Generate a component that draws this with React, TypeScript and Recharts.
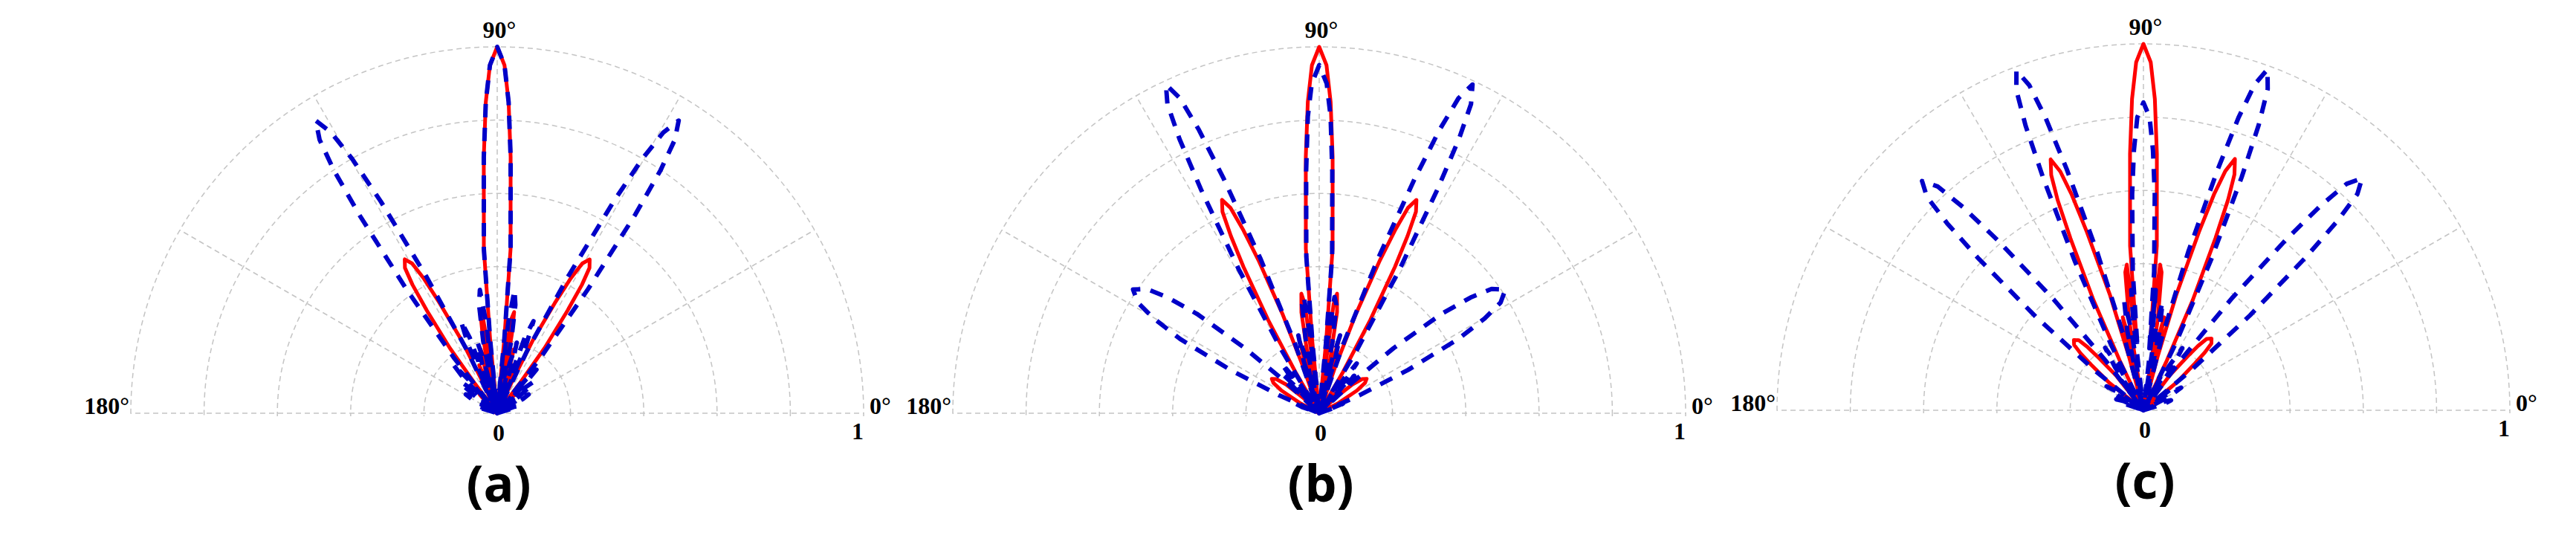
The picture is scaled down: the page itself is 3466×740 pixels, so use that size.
import { RadarChart, Radar, PolarGrid, PolarAngleAxis, PolarRadiusAxis } from 'recharts'

// [angle in degrees, normalised gain]
const panelARed: [number, number][] = [
  [0, 0], [20, 0], [22, 0.04], [24, 0],
  [44, 0], [46, 0.05], [47, 0.07], [48, 0.05], [50, 0],
  [53, 0.1], [54, 0.22], [55.6, 0.34], [56.6, 0.42], [57.6, 0.47], [59, 0.49],
  [60.4, 0.47], [61.4, 0.42], [62.4, 0.34], [64, 0.22], [65, 0.1],
  [66, 0], [68, 0.08], [69.5, 0.14], [71, 0.08], [72.5, 0],
  [74, 0.1], [75.5, 0.18], [77, 0.12], [77.5, 0],
  [78.5, 0.12], [79.5, 0.22], [80.5, 0.28], [81.5, 0.26], [82.5, 0.15], [83.5, 0],
  [84.5, 0.2], [85.35, 0.45], [87, 0.7], [87.9, 0.85], [88.8, 0.95], [90, 1],
  [91.2, 0.95], [92.1, 0.85], [93, 0.7], [94.65, 0.45], [95.5, 0.2],
  [96.5, 0], [97.5, 0.15], [98.5, 0.26], [99.5, 0.28], [100.5, 0.22], [101.5, 0.12], [102.5, 0],
  [103, 0.12], [104.5, 0.18], [106, 0.1], [107.5, 0],
  [109, 0.08], [110.5, 0.14], [112, 0.08], [114, 0],
  [115, 0.1], [116, 0.22], [117.6, 0.34], [118.6, 0.42], [119.6, 0.47], [121, 0.49],
  [122.4, 0.47], [123.4, 0.42], [124.4, 0.34], [126, 0.22], [127, 0.1],
  [130, 0], [132, 0.05], [133, 0.07], [134, 0.05], [136, 0],
  [156, 0], [158, 0.04], [160, 0], [180, 0],
]

const panelABlue: [number, number][] = [
  [0, 0], [15, 0], [17, 0.05], [19, 0.06], [21, 0.05], [23, 0],
  [27, 0], [29, 0.08], [31, 0.1], [33, 0.08], [35, 0],
  [37, 0.06], [39, 0.12], [41, 0.13], [43, 0.1], [45, 0],
  [46.5, 0.1], [48, 0.16], [49.5, 0.12], [51, 0],
  [52, 0.19], [53.8, 0.42], [55.2, 0.66], [56.1, 0.8], [57, 0.89], [58.2, 0.94],
  [59.4, 0.89], [60.3, 0.8], [61.2, 0.66], [62.6, 0.42], [64.4, 0.19],
  [65.5, 0], [67, 0.2], [68.5, 0.27], [70, 0.22], [71.5, 0],
  [73, 0.14], [74.5, 0.2], [76, 0.14], [77.5, 0],
  [79, 0.2], [80.5, 0.3], [82, 0.34], [83, 0.25], [83.8, 0],
  [84.5, 0.2], [85.35, 0.45], [87, 0.7], [87.9, 0.85], [88.8, 0.95], [90, 1],
  [91.2, 0.95], [92.1, 0.85], [93, 0.7], [94.65, 0.45], [95.5, 0.2],
  [96.2, 0], [97, 0.25], [98, 0.34], [99.5, 0.3], [101, 0.2], [102.5, 0],
  [104, 0.14], [105.5, 0.2], [107, 0.14], [108.5, 0],
  [110, 0.22], [111.5, 0.27], [113, 0.2], [114.5, 0],
  [115.6, 0.19], [117.4, 0.42], [118.8, 0.66], [119.7, 0.8], [120.6, 0.89], [121.8, 0.94],
  [123, 0.89], [123.9, 0.8], [124.8, 0.66], [126.2, 0.42], [128, 0.19],
  [129, 0], [130.5, 0.12], [132, 0.18], [133.5, 0.14], [135, 0],
  [137, 0.1], [139, 0.13], [141, 0.12], [143, 0.06], [145, 0],
  [147, 0.08], [149, 0.1], [151, 0.08], [153, 0],
  [159, 0.05], [161, 0.06], [163, 0.05], [165, 0], [180, 0],
]

const panelBRed: [number, number][] = [
  [0, 0], [25, 0],
  [28, 0.06], [31, 0.12], [33.5, 0.15], [36, 0.16], [38.5, 0.15], [41, 0.12], [44, 0.06],
  [46, 0], [48, 0.05], [50, 0.08], [52, 0.05], [55, 0],
  [60, 0.13], [61.3, 0.29], [62.65, 0.45], [63.5, 0.54], [64.35, 0.61], [65.5, 0.64],
  [66.65, 0.61], [67.5, 0.54], [68.35, 0.45], [69.7, 0.29], [71, 0.13],
  [72, 0], [73.5, 0.12], [75, 0.2], [76.5, 0.12], [77.5, 0],
  [78.5, 0.15], [80, 0.28], [81.5, 0.33], [82.5, 0.3], [83.5, 0],
  [84.5, 0.2], [85.35, 0.45], [87, 0.7], [87.9, 0.85], [88.8, 0.95], [90, 1],
  [91.2, 0.95], [92.1, 0.85], [93, 0.7], [94.65, 0.45], [95.5, 0.2],
  [96.5, 0], [97.5, 0.3], [98.5, 0.33], [100, 0.28], [101.5, 0.15], [102.5, 0],
  [103.5, 0.12], [105, 0.2], [106.5, 0.12], [108, 0],
  [109, 0.13], [110.3, 0.29], [111.65, 0.45], [112.5, 0.54], [113.35, 0.61], [114.5, 0.64],
  [115.65, 0.61], [116.5, 0.54], [117.35, 0.45], [118.7, 0.29], [120, 0.13],
  [125, 0], [128, 0.05], [130, 0.08], [132, 0.05], [134, 0],
  [136, 0.06], [139, 0.12], [141.5, 0.15], [144, 0.16], [146.5, 0.15], [149, 0.12], [152, 0.06],
  [155, 0], [180, 0],
]

const panelBBlue: [number, number][] = [
  [0, 0], [18, 0], [20, 0.05], [22, 0.07], [23, 0],
  [24.1, 0.12], [26, 0.27], [28.1, 0.43], [29.8, 0.52], [31.4, 0.58], [33.6, 0.61],
  [35.8, 0.58], [37.4, 0.52], [39.1, 0.43], [41.2, 0.27], [43.1, 0.12],
  [44, 0], [45.5, 0.1], [47, 0.14], [48.5, 0.1], [50, 0],
  [51.5, 0.12], [53, 0.17], [54.5, 0.12], [56, 0], [57, 0.1], [58, 0],
  [59.2, 0.2], [60.8, 0.45], [62.15, 0.69], [63, 0.84], [63.85, 0.94], [65, 0.99],
  [66.15, 0.94], [67, 0.84], [67.85, 0.69], [69.2, 0.45], [70.8, 0.2],
  [72, 0], [73.5, 0.15], [75, 0.22], [76.5, 0.15], [78, 0],
  [79.5, 0.2], [81, 0.3], [82.5, 0.32], [83.5, 0.2], [84, 0],
  [84.5, 0.19], [85.3, 0.43], [86.9, 0.66], [87.8, 0.81], [88.7, 0.9], [90, 0.95],
  [91.3, 0.9], [92.2, 0.81], [93.1, 0.66], [94.7, 0.43], [95.5, 0.19],
  [96, 0], [96.5, 0.2], [97.5, 0.32], [99, 0.3], [100.5, 0.2], [102, 0],
  [103.5, 0.15], [105, 0.22], [106.5, 0.15], [108, 0],
  [109.2, 0.2], [110.8, 0.45], [112.15, 0.69], [113, 0.84], [113.85, 0.94], [115, 0.99],
  [116.15, 0.94], [117, 0.84], [117.85, 0.69], [119.2, 0.45], [120.8, 0.2],
  [122, 0], [123, 0.1], [124, 0], [125.5, 0.12], [127, 0.17], [128.5, 0.12], [130, 0],
  [131.5, 0.1], [133, 0.14], [134.5, 0.1], [136, 0],
  [136.9, 0.12], [138.8, 0.27], [140.9, 0.43], [142.6, 0.52], [144.2, 0.58], [146.4, 0.61],
  [148.6, 0.58], [150.2, 0.52], [151.9, 0.43], [154, 0.27], [155.9, 0.12],
  [157, 0], [158, 0.07], [160, 0.05], [162, 0], [180, 0],
]

const panelCRed: [number, number][] = [
  [0, 0], [30, 0], [33, 0.04], [36, 0],
  [40, 0.12], [42.3, 0.19], [43.3, 0.23], [44.5, 0.26], [46.5, 0.27],
  [48.5, 0.26], [49.7, 0.23], [50.7, 0.19], [53, 0.12],
  [54, 0], [56, 0.06], [58, 0.08], [60, 0.06], [62, 0],
  [64.8, 0.15], [65.9, 0.33], [67.3, 0.51], [68.1, 0.62], [68.9, 0.69], [70, 0.73],
  [71.1, 0.69], [71.9, 0.62], [72.7, 0.51], [74.1, 0.33], [75.2, 0.15],
  [76, 0], [76.5, 0.18], [77.5, 0.26], [78.5, 0.2], [79.5, 0],
  [81, 0.25], [82.5, 0.38], [83.5, 0.4], [84, 0.2],
  [84.5, 0.2], [85.35, 0.45], [87, 0.7], [87.9, 0.85], [88.8, 0.95], [90, 1],
  [91.2, 0.95], [92.1, 0.85], [93, 0.7], [94.65, 0.45], [95.5, 0.2],
  [96, 0.2], [96.5, 0.4], [97.5, 0.38], [99, 0.25], [100.5, 0],
  [101.5, 0.2], [102.5, 0.26], [103.5, 0.18], [104.5, 0],
  [105.1, 0.15], [106.2, 0.33], [107.6, 0.51], [108.4, 0.62], [109.2, 0.69], [110.3, 0.73],
  [111.4, 0.69], [112.2, 0.62], [113, 0.51], [114.4, 0.33], [115.5, 0.15],
  [117, 0], [119, 0.06], [121, 0.08], [123, 0.06], [125, 0],
  [128.2, 0.12], [130.5, 0.19], [131.5, 0.23], [132.7, 0.26], [134.7, 0.27],
  [136.7, 0.26], [137.9, 0.23], [138.9, 0.19], [141.2, 0.12],
  [143, 0], [145, 0.04], [148, 0], [180, 0],
]

const panelCBlue: [number, number][] = [
  [0, 0], [14, 0], [17, 0.06], [20, 0.08], [23, 0.06], [26, 0],
  [28, 0.08], [31, 0.12], [34, 0.08], [36, 0], [37.5, 0.1], [39, 0],
  [40, 0.17], [41.7, 0.39], [43.3, 0.61], [44.3, 0.74], [45.3, 0.83], [46.7, 0.87],
  [48.1, 0.83], [49.1, 0.74], [50.1, 0.61], [51.7, 0.39], [53.4, 0.17],
  [54.5, 0], [56, 0.14], [58, 0.2], [60, 0.14], [62, 0], [63, 0.1], [63.5, 0],
  [64.2, 0.2], [65.8, 0.45], [67.15, 0.69], [68, 0.84], [68.85, 0.94], [70, 0.99],
  [71.15, 0.94], [72, 0.84], [72.85, 0.69], [74.2, 0.45], [75.8, 0.2],
  [77, 0], [78.5, 0.22], [80, 0.3], [81.5, 0.22], [83, 0],
  [83.6, 0.25], [84.2, 0.33], [84.5, 0.17],
  [85.6, 0.38], [87, 0.59], [87.9, 0.71], [88.8, 0.8], [90, 0.84],
  [91.2, 0.8], [92.1, 0.71], [93, 0.59], [94.4, 0.38], [95.5, 0.17],
  [95.8, 0.33], [96.4, 0.25], [97, 0],
  [98.5, 0.22], [100, 0.3], [101.5, 0.22], [103, 0],
  [104.7, 0.2], [106.3, 0.45], [107.65, 0.69], [108.5, 0.84], [109.35, 0.94], [110.5, 0.99],
  [111.65, 0.94], [112.5, 0.84], [113.35, 0.69], [114.7, 0.45], [116.3, 0.2],
  [117.5, 0], [119.5, 0.14], [121.5, 0.2], [123.5, 0.14], [125.5, 0], [126.5, 0.1], [127, 0],
  [127.3, 0.17], [129, 0.39], [130.6, 0.61], [131.6, 0.74], [132.6, 0.83], [134, 0.87],
  [135.4, 0.83], [136.4, 0.74], [137.4, 0.61], [139, 0.39], [140.7, 0.17],
  [141.5, 0], [144, 0.08], [147, 0.12], [150, 0.08], [152, 0],
  [155, 0.06], [158, 0.08], [161, 0.06], [164, 0], [180, 0],
]

const gridAngles = [0, 30, 60, 90, 120, 150, 180]
const gridRings = [0.2, 0.4, 0.6, 0.8, 1]
const angleLabels = ['180°', '90°', '0°']
const radiusLabels = ['0', '1']
const panelTitles = ['(a)', '(b)', '(c)']

const R = 493
const W = 1100
const PANELS = [
  { cx: 669, cy: 556, red: panelARed, blue: panelABlue },
  { cx: 1775, cy: 556, red: panelBRed, blue: panelBBlue },
  { cx: 2884, cy: 552, red: panelCRed, blue: panelCBlue },
]

type LayerProps = {
  cx: number
  cy: number
  series: [number, number][]
  color: string
  dashed?: boolean
  grid?: boolean
}

// one polar layer per series; the lower half of the circle is cut off by the wrapper
function PatternLayer({ cx, cy, series, color, dashed, grid }: LayerProps) {
  const data = series.map(([angle, gain]) => ({ angle, gain }))
  return (
    <div style={{ position: 'absolute', left: cx - W / 2, top: 0, width: W, height: cy + 4, overflow: 'hidden' }}>
      <RadarChart
        width={W}
        height={2 * cy + 10}
        data={data}
        cx={W / 2}
        cy={cy}
        outerRadius={R}
        startAngle={0}
        endAngle={360}
        margin={{ top: 0, right: 0, bottom: 0, left: 0 }}
      >
        {grid && (
          <PolarGrid
            gridType="circle"
            polarAngles={gridAngles}
            polarRadius={gridRings.map((g) => g * R)}
            stroke="#c4c4c4"
            strokeWidth={1.5}
            strokeDasharray="7 5"
          />
        )}
        <PolarAngleAxis dataKey="angle" type="number" domain={[0, 360]} tick={false} axisLine={false} tickLine={false} />
        <PolarRadiusAxis type="number" domain={[0, 1]} allowDataOverflow tick={false} axisLine={false} />
        <Radar
          dataKey="gain"
          stroke={color}
          strokeWidth={dashed ? 6 : 5}
          strokeDasharray={dashed ? '18 14' : undefined}
          strokeLinejoin="round"
          fill="none"
          fillOpacity={0}
          isAnimationActive={false}
        />
      </RadarChart>
    </div>
  )
}

export default function App() {
  const serif = { fontFamily: '"Liberation Serif", serif', fontWeight: 700, fontSize: 32 }
  return (
    <div style={{ position: 'absolute', left: 0, top: 0, width: 3466, height: 740, background: '#fff', overflow: 'hidden' }}>
      {PANELS.map((p, i) => (
        <div key={i}>
          <PatternLayer cx={p.cx} cy={p.cy} series={p.red} color="#ff0000" grid />
          <PatternLayer cx={p.cx} cy={p.cy} series={p.blue} color="#0000c8" dashed />
        </div>
      ))}
      <svg width={3466} height={740} style={{ position: 'absolute', left: 0, top: 0, pointerEvents: 'none' }}>
        {PANELS.map((p, i) => (
          <g key={i} fill="#000">
            <text x={p.cx - R - 2} y={p.cy + 1} textAnchor="end" style={serif}>{angleLabels[0]}</text>
            <text x={p.cx + 3} y={p.cy - R - 12} textAnchor="middle" style={serif}>{angleLabels[1]}</text>
            <text x={p.cx + R + 8} y={p.cy + 1} textAnchor="start" style={serif}>{angleLabels[2]}</text>
            <text x={p.cx + 2} y={p.cy + 37} textAnchor="middle" style={serif}>{radiusLabels[0]}</text>
            <text x={p.cx + R - 8} y={p.cy + 35} textAnchor="middle" style={serif}>{radiusLabels[1]}</text>
            <text
              x={p.cx + 2}
              y={p.cy + 119}
              textAnchor="middle"
              style={{ fontFamily: '"Open Sans", sans-serif', fontWeight: 700, fontSize: 68 }}
            >
              {panelTitles[i]}
            </text>
          </g>
        ))}
      </svg>
    </div>
  )
}
